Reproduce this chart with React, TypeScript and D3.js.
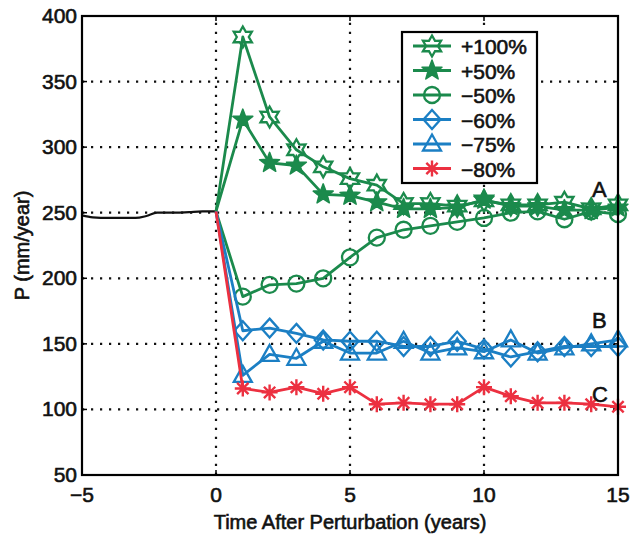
import * as React from "react";
import * as d3 from "d3";

// years after the perturbation, shared by every perturbed run
const years = [0, 1, 2, 3, 4, 5, 6, 7, 8, 9, 10, 11, 12, 13, 14, 15];

const plus100 = [251, 384, 323, 298, 285, 276, 271, 257, 257, 255, 259, 256, 256, 258, 253, 256];
const plus50 = [251, 321, 288, 286, 264, 263, 258, 253, 253, 254, 260, 255, 255, 252, 252, 254];
const minus50 = [251, 186, 195, 196, 200, 216, 231, 237, 240, 243, 246, 250, 251, 245, 251, 249];
const minus60 = [251, 160, 162, 158, 153, 152, 152, 148, 148, 152, 146, 140, 144, 148, 148, 148];
const minus75 = [251, 126, 142, 139, 152, 143, 143, 152, 143, 147, 144, 153, 143, 147, 150, 153];
const minus80 = [251, 116, 113, 117, 112, 117, 104, 105, 104, 104, 117, 110, 105, 105, 104, 102];

// spin-up before the perturbation
const spinT = [-5, -4.6, -4, -3.5, -3, -2.6, -2.2, -1.5, -1, -0.5, 0];
const spinP = [248, 246.5, 246, 246, 246, 247.5, 250, 250, 250.5, 251, 251];

const labels = ["+100%", "+50%", "\u221250%", "\u221260%", "\u221275%", "\u221280%"];
const xTicks = [-5, 0, 5, 10, 15];
const yTicks = [50, 100, 150, 200, 250, 300, 350, 400];

const green = "#1b8a4c";
const blue = "#1b7fc4";
const red = "#ec3040";

const series = [
  { name: labels[0], values: plus100, color: green, marker: "hexagram" },
  { name: labels[1], values: plus50, color: green, marker: "pentagram" },
  { name: labels[2], values: minus50, color: green, marker: "circle" },
  { name: labels[3], values: minus60, color: blue, marker: "diamond" },
  { name: labels[4], values: minus75, color: blue, marker: "triangle" },
  { name: labels[5], values: minus80, color: red, marker: "asterisk" },
];

const starPath = (points: number, outer: number, inner: number) => {
  const pts: string[] = [];
  for (let i = 0; i < points * 2; i++) {
    const r = i % 2 === 0 ? outer : inner;
    const a = (Math.PI * i) / points - Math.PI / 2;
    pts.push(`${(r * Math.cos(a)).toFixed(2)},${(r * Math.sin(a)).toFixed(2)}`);
  }
  return "M" + pts.join("L") + "Z";
};

const Marker = ({ type, color }: { type: string; color: string }) => {
  const sw = 2.3;
  if (type === "hexagram")
    return <path d={starPath(6, 10.5, 6)} fill="none" stroke={color} strokeWidth={sw} />;
  if (type === "pentagram")
    return <path d={starPath(5, 10.5, 4.4)} fill={color} stroke={color} strokeWidth={1.5} strokeLinejoin="round" />;
  if (type === "circle") return <circle r={8} fill="none" stroke={color} strokeWidth={sw} />;
  if (type === "diamond")
    return <path d="M0,-9.5L8.5,0L0,9.5L-8.5,0Z" fill="none" stroke={color} strokeWidth={sw} />;
  if (type === "triangle")
    return <path d="M0,-9.5L9,6.5L-9,6.5Z" fill="none" stroke={color} strokeWidth={sw} />;
  // asterisk
  const r = 8;
  const d = r * 0.707;
  return (
    <path
      d={`M${-r},0L${r},0M0,${-r}L0,${r}M${-d},${-d}L${d},${d}M${-d},${d}L${d},${-d}`}
      stroke={color}
      strokeWidth={2.4}
    />
  );
};

export default function App() {
  const width = 632;
  const height = 538;
  const m = { left: 82, right: 618, top: 16, bottom: 475 };

  const x = d3.scaleLinear().domain([-5, 15]).range([m.left, m.right]);
  const y = d3.scaleLinear().domain([50, 400]).range([m.bottom, m.top]);

  const line = d3
    .line<number>()
    .x((_, i) => x(years[i]))
    .y((d) => y(d));

  const spinLine = d3
    .line<number>()
    .x((_, i) => x(spinT[i]))
    .y((d) => y(d))
    .curve(d3.curveMonotoneX);

  const font = "Liberation Sans, Arial, Helvetica, sans-serif";
  const tick = 5;
  // a thin outline to match the heavier print of the scan
  const textStroke = { stroke: "#111", strokeWidth: 0.6 };

  return (
    <svg
      width={width}
      height={height}
      style={{ position: "absolute", left: 0, top: 0, background: "#fff" }}
      fontFamily={font}
    >
      {/* dotted grid */}
      <g stroke="#111" strokeWidth={2.2} strokeDasharray="2.2,6.8" strokeLinecap="butt">
        {xTicks.slice(1, -1).map((t) => (
          <line key={"gx" + t} x1={x(t)} x2={x(t)} y1={m.bottom} y2={m.top} />
        ))}
        {yTicks.slice(1, -1).map((t) => (
          <line key={"gy" + t} x1={m.left} x2={m.right} y1={y(t)} y2={y(t)} />
        ))}
      </g>

      {/* ticks inside the box */}
      <g stroke="#000" strokeWidth={1.5}>
        {xTicks.map((t) => (
          <g key={"tx" + t}>
            <line x1={x(t)} x2={x(t)} y1={m.bottom} y2={m.bottom - tick} />
            <line x1={x(t)} x2={x(t)} y1={m.top} y2={m.top + tick} />
          </g>
        ))}
        {yTicks.map((t) => (
          <g key={"ty" + t}>
            <line x1={m.left} x2={m.left + tick} y1={y(t)} y2={y(t)} />
            <line x1={m.right} x2={m.right - tick} y1={y(t)} y2={y(t)} />
          </g>
        ))}
      </g>

      {/* spin-up */}
      <path d={spinLine(spinP) ?? ""} fill="none" stroke="#111" strokeWidth={2.2} />

      {series.map((s) => (
        <g key={s.name}>
          <path d={line(s.values) ?? ""} fill="none" stroke={s.color} strokeWidth={2.8} strokeLinejoin="round" />
          {s.values.map((v, i) =>
            i === 0 ? null : (
              <g key={i} transform={`translate(${x(years[i])},${y(v)})`}>
                <Marker type={s.marker} color={s.color} />
              </g>
            )
          )}
        </g>
      ))}

      {/* box */}
      <rect
        x={m.left}
        y={m.top}
        width={m.right - m.left}
        height={m.bottom - m.top}
        fill="none"
        stroke="#000"
        strokeWidth={2.2}
      />

      {/* tick labels */}
      <g fontSize={21} fill="#111" {...textStroke}>
        {xTicks.map((t) => (
          <text key={"lx" + t} x={x(t)} y={m.bottom + 27} textAnchor="middle">
            {t < 0 ? "\u2212" + Math.abs(t) : t}
          </text>
        ))}
        {yTicks.map((t) => (
          <text key={"ly" + t} x={m.left - 5} y={y(t) + 7} textAnchor="end">
            {t}
          </text>
        ))}
      </g>

      <text x={(m.left + m.right) / 2} y={529} textAnchor="middle" fontSize={20} fill="#111" {...textStroke}>
        Time After Perturbation (years)
      </text>
      <text
        transform={`translate(29,${(m.top + m.bottom) / 2}) rotate(-90)`}
        textAnchor="middle"
        fontSize={20}
        fill="#111"
        {...textStroke}
      >
        P (mm/year)
      </text>

      {/* A B C labels */}
      <g fontSize={22} fill="#111" {...textStroke}>
        <text x={592} y={197}>A</text>
        <text x={592} y={328}>B</text>
        <text x={592} y={402}>C</text>
      </g>

      {/* legend */}
      <g>
        <rect x={402} y={32} width={135} height={151} fill="#fff" stroke="#000" strokeWidth={2.2} />
        {series.map((s, i) => {
          const ly = 46 + i * 24.5;
          return (
            <g key={"lg" + s.name}>
              <line x1={413} x2={451} y1={ly} y2={ly} stroke={s.color} strokeWidth={2.8} />
              <g transform={`translate(432,${ly})`}>
                <Marker type={s.marker} color={s.color} />
              </g>
              <text x={461} y={ly + 8} fontSize={21} fill="#111" {...textStroke}>
                {s.name}
              </text>
            </g>
          );
        })}
      </g>
    </svg>
  );
}
